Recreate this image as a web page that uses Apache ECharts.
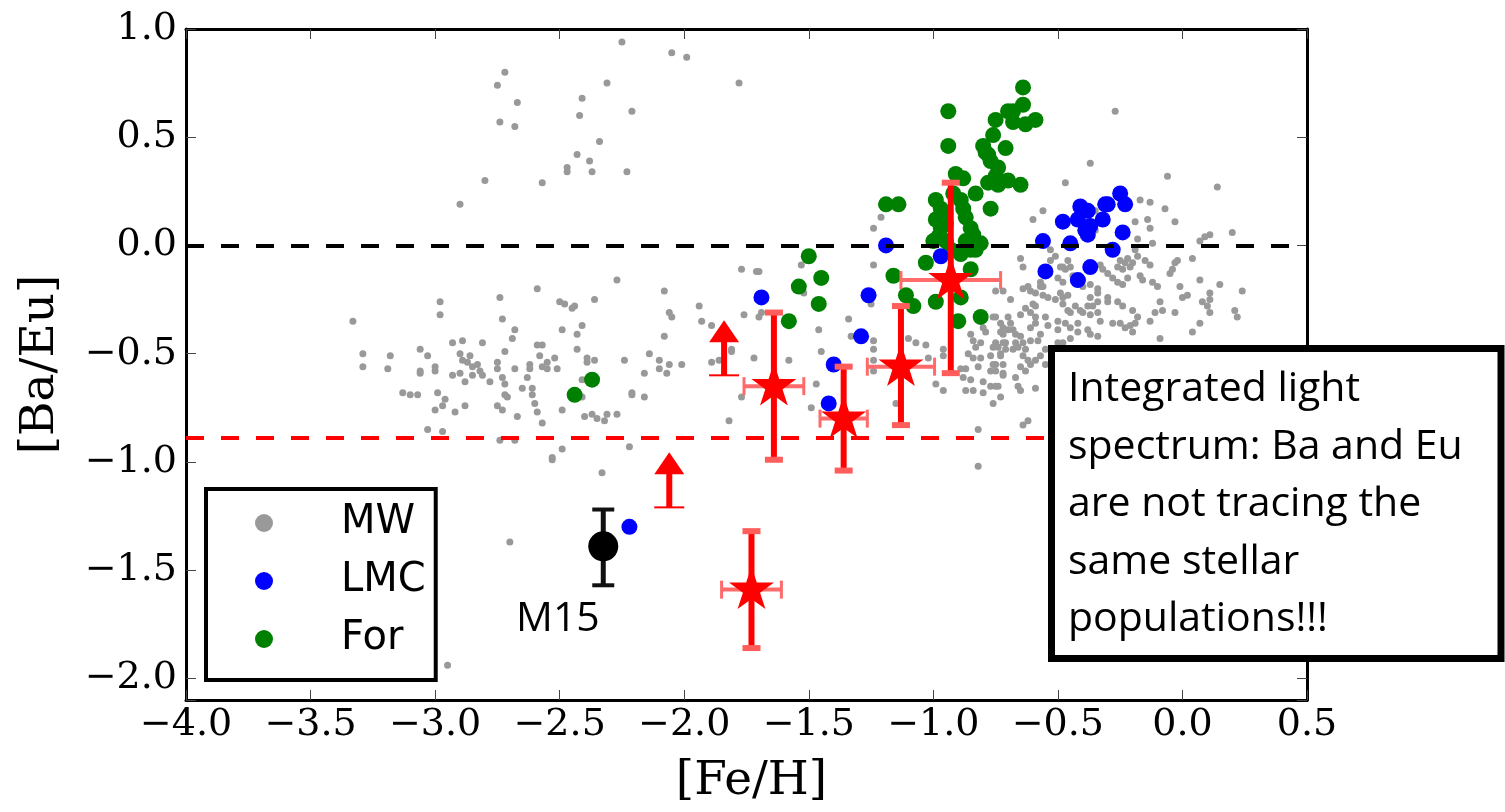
<!DOCTYPE html>
<html>
<head>
<meta charset="utf-8">
<title>[Ba/Eu] vs [Fe/H]</title>
<script src="https://cdn.jsdelivr.net/npm/echarts/dist/echarts.min.js"></script>
<style>
  html, body { margin: 0; padding: 0; background: #fff; }
  #chart { width: 1505px; height: 812px; }
</style>
</head>
<body>
<div id="chart"></div>
<script>
// Milky Way stars [Fe/H, Ba/Eu]
const mwPoints = [
  [-2.25,0.94],[-2.05,0.89],[-1.99,0.87],[-2.72,0.80],[-2.75,0.74],[-2.31,0.75],[-2.67,0.66],[-2.41,0.68],[-2.42,0.60],[-2.21,0.62],
  [-2.74,0.57],[-2.68,0.55],[-2.34,0.48],[-2.43,0.42],[-2.38,0.39],[-2.47,0.36],[-2.47,0.34],[-2.37,0.34],[-2.23,0.34],[-2.80,0.30],
  [-2.57,0.29],[-2.90,0.19],[-1.78,0.75],[-1.24,0.08],[-1.21,0.13],[-0.27,0.62],[-0.37,0.38],[-0.06,0.32],[0.14,0.27],[-0.47,0.29],
  [-1.77,-0.11],[-1.71,-0.12],[-1.70,-0.12],[-1.53,-0.09],[-1.24,-0.09],[-1.52,-0.22],[-2.27,-0.16],[-2.59,-0.20],[-2.08,-0.21],[-2.74,-0.24],
  [-2.98,-0.26],[-2.50,-0.26],[-2.48,-0.27],[-2.36,-0.25],[-2.45,-0.29],[-2.44,-0.28],[-2.06,-0.31],[-2.05,-0.33],[-2.98,-0.32],[-3.33,-0.35],
  [-2.73,-0.34],[-2.68,-0.39],[-2.49,-0.39],[-2.41,-0.37],[-2.43,-0.41],[-2.08,-0.42],[-2.69,-0.43],[-2.93,-0.45],[-2.89,-0.44],[-2.81,-0.45],
  [-2.59,-0.46],[-2.57,-0.46],[-3.06,-0.48],[-2.43,-0.48],[-3.29,-0.50],[-3.18,-0.51],[-3.03,-0.51],[-2.90,-0.50],[-2.86,-0.51],[-2.72,-0.49],
  [-2.58,-0.51],[-2.52,-0.52],[-2.39,-0.52],[-2.36,-0.53],[-2.39,-0.54],[-2.24,-0.53],[-2.14,-0.50],[-2.10,-0.53],[-2.06,-0.55],[-2.01,-0.55],
  [-3.29,-0.56],[-3.19,-0.57],[-3.00,-0.56],[-3.00,-0.58],[-3.06,-0.58],[-3.06,-0.59],[-2.89,-0.53],[-2.87,-0.54],[-2.83,-0.55],[-2.85,-0.56],
  [-2.82,-0.58],[-2.81,-0.60],[-2.75,-0.54],[-2.75,-0.57],[-2.68,-0.57],[-2.62,-0.55],[-2.62,-0.57],[-2.57,-0.56],[-2.55,-0.54],[-2.55,-0.57],
  [-2.51,-0.57],[-2.90,-0.59],[-2.93,-0.60],[-2.85,-0.60],[-2.10,-0.57],[-2.07,-0.59],[-2.16,-0.59],[-2.73,-0.61],[-2.72,-0.64],[-2.63,-0.61],
  [-2.78,-0.63],[-2.88,-0.63],[-2.41,-0.62],[-2.65,-0.66],[-2.61,-0.66],[-3.13,-0.68],[-3.10,-0.69],[-3.07,-0.69],[-2.99,-0.68],[-2.72,-0.69],
  [-2.71,-0.70],[-2.61,-0.69],[-2.21,-0.68],[-2.21,-0.69],[-2.16,-0.70],[-2.41,-0.70],[-2.96,-0.71],[-2.60,-0.73],[-2.97,-0.74],[-2.88,-0.74],
  [-2.75,-0.74],[-2.73,-0.76],[-3.00,-0.76],[-2.92,-0.77],[-2.59,-0.77],[-2.49,-0.76],[-2.67,-0.79],[-2.40,-0.79],[-2.37,-0.78],[-2.35,-0.80],
  [-2.31,-0.78],[-2.32,-0.81],[-2.27,-0.78],[-2.57,-0.82],[-3.03,-0.85],[-2.97,-0.86],[-2.74,-0.90],[-2.68,-0.90],[-2.49,-0.94],[-2.53,-0.98],
  [-2.53,-0.99],[-2.22,-0.93],[-2.33,-1.05],[-2.95,-1.94],[-2.70,-1.37],
  [-1.94,-0.28],[-1.93,-0.35],[-1.89,-0.37],[-1.76,-0.32],[-1.70,-0.33],[-1.69,-0.31],[-1.25,-0.27],[-1.89,-0.54],[-1.86,-0.53],[-1.81,-0.48],
  [-1.81,-0.49],[-1.72,-0.52],[-1.58,-0.53],[-1.46,-0.39],[-1.45,-0.49],[-1.34,-0.34],[-1.24,-0.44],[-1.24,-0.48],[-1.24,-0.53],[-1.24,-0.58],
  [-1.77,-0.70],[-1.82,-0.81],[-1.49,-0.75],[-1.47,-0.64],[-1.10,-0.43],[-1.07,-0.45],[-1.03,-0.46],[-1.02,-0.52],[-1.15,-0.73],[-0.96,-0.51],
  [-0.96,-0.48],[-0.99,-0.64],[-0.96,-0.67],[-0.85,-0.41],[-0.84,-0.44],[-0.83,-0.47],[-0.86,-0.50],[-0.87,-0.57],[-0.85,-0.62],[-0.84,-0.67],
  [-0.82,-0.85],[-0.82,-1.02],[-0.88,-0.61],[-0.87,-0.67],[-1.33,-0.42],[-0.80,-0.38],[-0.79,-0.40],[-0.81,-0.45],[-0.76,-0.33],[-0.75,-0.33],
  [-0.73,-0.36],[-0.70,-0.33],[-0.72,-0.41],[-0.71,-0.45],[-0.75,-0.45],[-0.74,-0.47],[-0.84,-0.52],[-0.81,-0.52],[-0.77,-0.51],[-0.76,-0.55],
  [-0.73,-0.50],[-0.72,-0.55],[-0.89,-0.57],[-0.82,-0.56],[-0.77,-0.58],[-0.75,-0.58],[-0.72,-0.59],[-0.80,-0.63],[-0.74,-0.65],[-0.80,-0.68],
  [-0.73,-0.70],[-0.76,-0.73],
  [-0.17,0.21],[-0.13,0.20],[-0.07,0.17],[-0.56,0.16],[-0.60,0.12],[-0.35,0.16],[-0.19,0.11],[-0.14,0.12],[-0.03,0.11],[-0.13,0.08],
  [0.20,0.06],[0.11,0.05],[0.09,0.04],[0.07,0.02],[-0.12,0.01],[-0.18,0.03],[-0.35,0.07],[0.04,-0.06],[-0.02,-0.07],[-0.03,-0.08],
  [-0.19,-0.02],[-0.18,-0.05],[-0.15,-0.07],[-0.13,-0.09],[-0.65,-0.06],[-0.64,-0.10],[-0.53,-0.02],[-0.51,-0.05],[-0.53,-0.07],[-0.46,-0.07],
  [-0.45,-0.10],[-0.48,-0.10],[-0.47,-0.11],[-0.25,-0.07],[-0.23,-0.08],[-0.22,-0.06],[-0.20,-0.08],[-0.21,-0.10],[-0.26,-0.10],[-0.24,-0.11],
  [-0.33,-0.09],[-0.32,-0.11],[-0.30,-0.13],[-0.28,-0.15],[-0.26,-0.17],[-0.24,-0.18],[-0.22,-0.15],[-0.17,-0.14],[-0.16,-0.16],[-0.12,-0.17],
  [-0.10,-0.19],[-0.05,-0.13],[-0.04,-0.11],[-0.01,-0.19],[0.00,-0.24],[0.02,-0.23],[0.07,-0.16],[0.15,-0.18],[0.11,-0.22],[0.11,-0.25],
  [0.08,-0.26],[0.10,-0.28],[0.24,-0.21],[0.21,-0.30],[0.22,-0.33],[0.11,-0.31],[0.07,-0.36],[0.04,-0.40],[-0.03,-0.31],[-0.09,-0.26],
  [-0.08,-0.30],[-0.11,-0.31],[-0.13,-0.35],[-0.09,-0.43],[-0.20,-0.30],[-0.18,-0.33],[-0.19,-0.36],[-0.21,-0.37],[-0.23,-0.38],[-0.25,-0.36],
  [-0.28,-0.36],[-0.20,-0.40],[-0.24,-0.28],[-0.26,-0.26],[-0.30,-0.26],[-0.30,-0.24],[-0.34,-0.22],[-0.34,-0.20],[-0.37,-0.18],[-0.40,-0.16],
  [-0.41,-0.15],[-0.43,-0.16],[-0.44,-0.14],[-0.49,-0.10],[-0.40,-0.19],[-0.37,-0.24],[-0.34,-0.26],[-0.38,-0.28],[-0.36,-0.28],[-0.34,-0.31],
  [-0.33,-0.35],[-0.40,-0.31],[-0.37,-0.32],[-0.41,-0.30],[-0.43,-0.28],[-0.45,-0.31],[-0.46,-0.30],[-0.48,-0.27],[-0.48,-0.24],[-0.51,-0.25],
  [-0.54,-0.24],[-0.56,-0.23],[-0.57,-0.19],[-0.59,-0.22],[-0.61,-0.21],[-0.64,-0.20],[-0.62,-0.19],[-0.60,-0.27],[-0.59,-0.28],[-0.63,-0.29],
  [-0.61,-0.31],[-0.65,-0.32],[-0.69,-0.25],[-0.72,-0.21],[-0.75,-0.21],[-0.59,-0.33],[-0.59,-0.36],[-0.61,-0.38],[-0.55,-0.33],[-0.54,-0.37],
  [-0.50,-0.35],[-0.50,-0.39],[-0.47,-0.36],[-0.45,-0.38],[-0.42,-0.36],[-0.42,-0.40],[-0.38,-0.39],[-0.37,-0.41],[-0.34,-0.42],[-0.45,-0.43],
  [-0.48,-0.45],[-0.50,-0.45],[-0.69,-0.36],[-0.68,-0.39],[-0.70,-0.39],[-0.72,-0.38],[-0.73,-0.40],[-0.67,-0.41],[-0.65,-0.42],[-0.64,-0.45],
  [-0.61,-0.44],[-0.63,-0.48],[-0.57,-0.41],[-0.58,-0.44],[-0.67,-0.45],[-0.66,-0.47],[-0.68,-0.48],[-0.72,-0.45],[-0.76,-0.47],[-0.71,-0.48],
  [-0.73,-0.51],[-0.64,-0.51],[-0.62,-0.53],[-0.61,-0.55],[-0.59,-0.53],[-0.57,-0.51],[-0.55,-0.48],[-0.55,-0.55],[-0.65,-0.56],[-0.63,-0.58],
  [-0.75,-0.55],[-0.72,-0.60],[-0.67,-0.61],[-0.75,-0.65],[-0.77,-0.65],[-0.66,-0.65],[-0.65,-0.67],[-0.59,-0.66],[-0.62,-0.81],[-0.64,-0.83],
  [-0.50,-0.15],[-0.48,-0.17],[-0.49,-0.22],[-0.46,-0.23],[-0.57,-0.17],[-0.56,-0.19]
];

// LMC stars
const lmcPoints = [
  [-0.56,0.02],[-0.45,0.01],[-0.48,0.11],[-0.41,0.18],[-0.38,0.16],[-0.42,0.12],[-0.39,0.07],[-0.38,0.05],[-0.37,0.09],[-0.32,0.12],
  [-0.31,0.19],[-0.30,0.19],[-0.25,0.24],[-0.23,0.19],[-0.24,0.06],[-0.28,-0.02],[-0.55,-0.12],[-0.37,-0.10],[-0.42,-0.16],
  [-1.69,-0.24],[-1.26,-0.23],[-1.29,-0.42],[-1.40,-0.55],[-1.42,-0.73],[-1.19,0.00],[-0.97,-0.05],[-2.22,-1.30]
];

// Fornax stars
const forPoints = [
  [-0.94,0.62],[-0.94,0.46],[-0.75,0.58],[-0.70,0.62],[-0.76,0.51],[-0.80,0.46],[-0.79,0.43],[-0.77,0.39],[-0.74,0.36],[-0.75,0.30],
  [-0.78,0.29],[-0.74,0.28],[-0.71,0.45],[-0.91,0.33],[-0.88,0.31],[-0.83,0.24],[-0.77,0.17],[-0.99,0.21],[-0.97,0.17],[-0.96,0.13],
  [-0.95,0.10],[-0.99,0.12],[-0.98,0.04],[-0.95,0.02],[-0.92,0.24],[-0.89,0.21],[-0.88,0.17],[-0.87,0.13],[-0.85,0.08],[-0.84,0.05],
  [-0.87,0.02],[-0.85,-0.02],[-0.83,-0.02],[-0.81,0.01],[-0.89,-0.04],[-0.93,-0.02],[-1.00,0.02],[-0.97,0.08],[-1.19,0.19],[-1.14,0.19],
  [-1.16,-0.14],[-1.11,-0.23],[-1.08,-0.28],[-1.03,-0.08],[-0.99,-0.26],[-0.89,-0.24],[-0.90,-0.35],[-0.81,-0.33],[-0.85,-0.11],
  [-1.50,-0.05],[-1.45,-0.15],[-1.54,-0.19],[-1.46,-0.27],[-1.58,-0.35],[-2.37,-0.62],[-2.44,-0.69],
  [-0.64,0.73],[-0.64,0.65],[-0.68,0.62],[-0.68,0.57],[-0.63,0.56],[-0.59,0.58],[-0.78,0.42],[-0.75,0.32],[-0.70,0.30],[-0.65,0.28]
];

// integrated light measurements: Fe/H, Ba/Eu, Fe/H err, Ba/Eu err (low, high)
const ilFe      = [-1.64, -1.36, -1.13, -0.93, -1.73];
const ilBaEu    = [-0.65, -0.80, -0.56, -0.16, -1.59];
const ilFeErr   = [0.12, 0.095, 0.135, 0.20, 0.12];
const ilBaEuLo  = [0.34, 0.24, 0.27, 0.43, 0.27];
const ilBaEuHi  = [0.34, 0.24, 0.28, 0.45, 0.27];

// lower limits on [Ba/Eu]
const limFe   = [-1.84, -2.06];
const limBaEu = [-0.60, -1.21];

// M15
const m15Fe = [-2.325];
const m15BaEu = [-1.39];
const m15Lo = [0.18];
const m15Hi = [0.17];

const refLines = [0, -0.89];
const xTicks = { min: -4.0, max: 0.5, step: 0.5 };
const yRange = { min: -2.1, max: 1.0, step: 0.5 };
const noteLines = ['Integrated light', 'spectrum: Ba and Eu', 'are not tracing the', 'same stellar', 'populations!!!'];

const serif = 'DejaVu Serif';
const noteFont = '41px "Open Sans"';
const fmt = function (v) {
  if (Math.abs(v - yRange.min) < 1e-6) return '';
  return v.toFixed(1).replace('-', '\u2212');
};

function starPath() {
  let d = '';
  for (let i = 0; i < 10; i++) {
    const r = i % 2 === 0 ? 1 : 0.382;
    const a = Math.PI / 2 + i * Math.PI / 5;
    d += (i ? 'L' : 'M') + (r * Math.cos(a)).toFixed(4) + ',' + (-r * Math.sin(a)).toFixed(4);
  }
  return 'path://' + d + 'Z';
}

function line(x1, y1, x2, y2, color, w) {
  return { type: 'line', shape: { x1: x1, y1: y1, x2: x2, y2: y2 }, style: { stroke: color, lineWidth: w } };
}

// error bars for the integrated light stars
function ilErrors(params, api) {
  const x = api.value(0), y = api.value(1), xe = api.value(2), lo = api.value(3), hi = api.value(4);
  const c = api.coord([x, y]);
  const l = api.coord([x - xe, y]), r = api.coord([x + xe, y]);
  const t = api.coord([x, y + hi]), b = api.coord([x, y - lo]);
  const light = '#ff5c5c';
  return {
    type: 'group',
    children: [
      line(l[0], c[1], r[0], c[1], '#ff6a6a', 4),
      line(l[0], c[1] - 9, l[0], c[1] + 9, '#ff6a6a', 3),
      line(r[0], c[1] - 9, r[0], c[1] + 9, '#ff6a6a', 3),
      line(c[0], t[1], c[0], b[1], '#ff0000', 6),
      line(c[0] - 9, t[1], c[0] + 9, t[1], light, 6),
      line(c[0] - 9, b[1], c[0] + 9, b[1], light, 6)
    ]
  };
}

function m15Errors(params, api) {
  const x = api.value(0), y = api.value(1), lo = api.value(2), hi = api.value(3);
  const t = api.coord([x, y + hi]), b = api.coord([x, y - lo]);
  return {
    type: 'group',
    children: [
      line(t[0], t[1], b[0], b[1], '#111', 5),
      line(t[0] - 11, t[1], t[0] + 11, t[1], '#111', 4),
      line(b[0] - 11, b[1], b[0] + 11, b[1], '#111', 4)
    ]
  };
}

// lower limit arrows (fixed length in pixels, like matplotlib lolims)
function limitArrow(params, api) {
  const p = api.coord([api.value(0), api.value(1)]);
  return {
    type: 'group',
    children: [
      line(p[0] - 15, p[1], p[0] + 15, p[1], '#ff0000', 2),
      line(p[0], p[1], p[0], p[1] - 34, '#ff0000', 6),
      { type: 'polygon', shape: { points: [[p[0] - 15, p[1] - 33], [p[0] + 15, p[1] - 33], [p[0], p[1] - 55]] },
        style: { fill: '#ff0000' } }
    ]
  };
}

const chart = echarts.init(document.getElementById('chart'));

const baseAxis = {
  type: 'value',
  splitLine: { show: false },
  axisLine: { show: true, onZero: false, lineStyle: { color: '#000', width: 3 } },
  axisTick: { show: true, inside: true, length: 10, lineStyle: { color: '#444', width: 1 } }
};

const option = {
  animation: false,
  backgroundColor: '#fff',
  grid: { left: 186, right: 198, top: 29, bottom: 112, containLabel: false, outerBoundsMode: 'none' },
  xAxis: [
    Object.assign({}, baseAxis, {
      position: 'bottom', min: xTicks.min, max: xTicks.max, interval: xTicks.step,
      axisLabel: { fontFamily: serif, fontSize: 38, color: '#000', margin: 6, formatter: fmt },
      name: '[Fe/H]', nameLocation: 'middle', nameGap: 58,
      nameTextStyle: { fontFamily: serif, fontSize: 47, color: '#000', padding: [0, 0, 0, 10] }
    }),
    Object.assign({}, baseAxis, {
      position: 'top', min: xTicks.min, max: xTicks.max, interval: xTicks.step,
      axisLabel: { show: false }
    })
  ],
  yAxis: [
    Object.assign({}, baseAxis, {
      position: 'left', min: yRange.min, max: yRange.max,
      minInterval: yRange.step, maxInterval: yRange.step,
      axisLabel: { fontFamily: serif, fontSize: 38, color: '#000', margin: 9, formatter: fmt },
      name: '[Ba/Eu]', nameLocation: 'middle', nameGap: 122,
      nameTextStyle: { fontFamily: serif, fontSize: 47, color: '#000' }
    }),
    Object.assign({}, baseAxis, {
      position: 'right', min: yRange.min, max: yRange.max,
      minInterval: yRange.step, maxInterval: yRange.step,
      axisLabel: { show: false }
    })
  ],
  legend: {
    orient: 'vertical', left: 206, top: 489, z: 50,
    selectedMode: false,
    itemWidth: 18, itemHeight: 18, itemGap: 18,
    padding: [14, 10, 21, 49],
    backgroundColor: '#fff', borderColor: '#000', borderWidth: 4,
    itemStyle: { opacity: 1 },
    textStyle: { fontFamily: 'DejaVu Sans', fontSize: 40, color: '#000', lineHeight: 40, padding: [0, 0, 0, 63] },
    data: ['MW', 'LMC', 'For']
  },
  series: [
    { name: 'MW', type: 'scatter', data: mwPoints, symbol: 'circle', symbolSize: 7, z: 2,
      itemStyle: { color: '#999999', opacity: 1 }, silent: true },
    { name: 'For', type: 'scatter', data: forPoints, symbol: 'circle', symbolSize: 16, z: 3,
      itemStyle: { color: '#008000', opacity: 1 }, silent: true },
    { name: 'LMC', type: 'scatter', data: lmcPoints, symbol: 'circle', symbolSize: 16, z: 4,
      itemStyle: { color: '#0000ff', opacity: 1 }, silent: true },
    { name: 'ref', type: 'scatter', data: [], z: 5, silent: true,
      markLine: {
        silent: true, symbol: ['none', 'none'], label: { show: false }, animation: false,
        lineStyle: { type: [18, 17], width: 4 },
        data: [
          { yAxis: refLines[0], lineStyle: { color: '#000', type: [18, 17], width: 4 } },
          { yAxis: refLines[1], lineStyle: { color: '#ff0000', type: [18, 17], width: 4 } }
        ]
      }
    },
    { name: 'M15 err', type: 'custom', z: 6, silent: true, renderItem: m15Errors,
      encode: { x: 0, y: 1 },
      data: m15Fe.map((v, i) => [v, m15BaEu[i], m15Lo[i], m15Hi[i]]) },
    { name: 'M15', type: 'scatter', z: 7, silent: true, symbolSize: 30,
      itemStyle: { color: '#000', opacity: 1 },
      data: m15Fe.map((v, i) => [v, m15BaEu[i]]) },
    { name: 'limits', type: 'custom', z: 8, silent: true, renderItem: limitArrow,
      encode: { x: 0, y: 1 },
      data: limFe.map((v, i) => [v, limBaEu[i]]) },
    { name: 'IL err', type: 'custom', z: 8, silent: true, renderItem: ilErrors,
      encode: { x: 0, y: 1 },
      data: ilFe.map((v, i) => [v, ilBaEu[i], ilFeErr[i], ilBaEuLo[i], ilBaEuHi[i]]) },
    { name: 'IL', type: 'scatter', z: 9, silent: true,
      symbol: starPath(), symbolSize: 45, symbolKeepAspect: true, symbolOffset: [0, -2],
      itemStyle: { color: '#ff0000', opacity: 1 },
      data: ilFe.map((v, i) => [v, ilBaEu[i]]) }
  ],
  graphic: [
    { type: 'rect', z: 100, shape: { x: 1051.5, y: 348.5, width: 449.5, height: 310 },
      style: { fill: '#fff', stroke: '#000', lineWidth: 7 } },
    { type: 'text', z: 101, x: 1068, y: 361,
      style: { text: noteLines.join('\n'), font: noteFont, fill: '#000', lineHeight: 57.5, verticalAlign: 'top' } },
    { type: 'text', z: 101, x: 516, y: 619,
      style: { text: 'M15', font: noteFont, fill: '#000', verticalAlign: 'middle' } }
  ]
};

chart.setOption(option);
</script>
</body>
</html>
